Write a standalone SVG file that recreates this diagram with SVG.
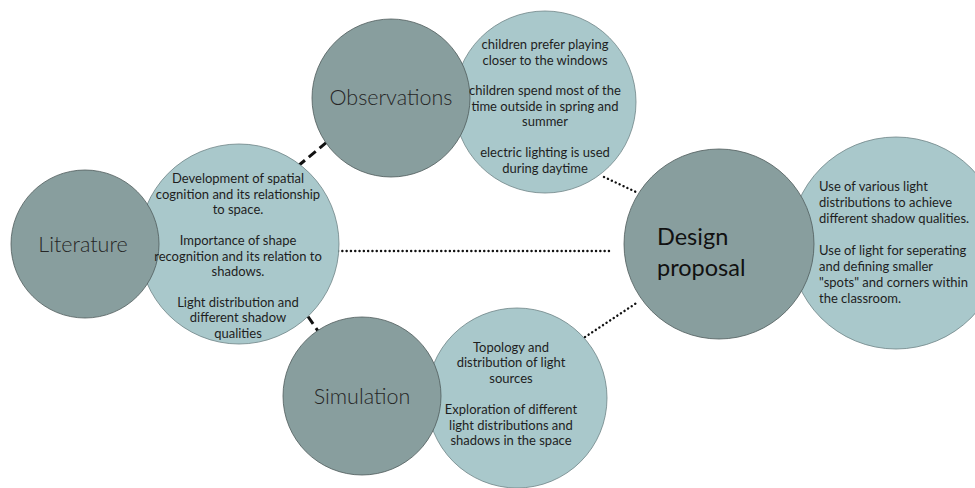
<svg xmlns="http://www.w3.org/2000/svg" width="975" height="488" viewBox="0 0 975 488">
<style>
.light{fill:#a9c8cb;stroke:#6f8486;stroke-width:0.8}
.dark{fill:#889e9e;stroke:#4f5c5c;stroke-width:0.8}
.title{font-family:Lato,"Liberation Sans",sans-serif;font-weight:300;fill:#262626;text-anchor:middle;font-size:21.5px}
.body{font-family:Lato,"Liberation Sans",sans-serif;font-size:13px;fill:#1e1e1e;text-anchor:middle}
.dash{stroke:#111;stroke-width:3;stroke-dasharray:9 5;fill:none}
.dot{stroke:#111;stroke-width:2.4;stroke-dasharray:0.1 4.2;stroke-linecap:round;fill:none}
</style>
<rect width="975" height="488" fill="#ffffff"/>
<g id="connectors">
<line class="dash" x1="298" y1="166" x2="327" y2="142"/>
<line class="dash" x1="300" y1="305" x2="318" y2="331"/>
<line class="dot" x1="604" y1="177" x2="636" y2="192"/>
<line class="dot" x1="338" y1="251" x2="613" y2="251"/>
<line class="dot" x1="585" y1="337" x2="638" y2="302"/>
</g>
<g id="literature">
<circle class="light" cx="239" cy="244" r="100"/>
<circle class="dark" cx="85" cy="244" r="74"/>
<text class="title" x="83" y="252">Literature</text>
<text class="body"><tspan x="238" y="183">Development of spatial</tspan><tspan x="238" y="199">cognition and its relationship</tspan><tspan x="238" y="214">to space.</tspan><tspan x="238" y="245">Importance of shape</tspan><tspan x="238" y="261">recognition and its relation to</tspan><tspan x="238" y="276">shadows.</tspan><tspan x="238" y="307">Light distribution and</tspan><tspan x="238" y="322">different shadow</tspan><tspan x="238" y="338">qualities</tspan></text>
</g>
<g id="observations">
<circle class="light" cx="545" cy="102" r="91"/>
<circle class="dark" cx="391" cy="98" r="79"/>
<text class="title" x="391" y="105">Observations</text>
<text class="body"><tspan x="545" y="49">children prefer playing</tspan><tspan x="545" y="65">closer to the windows</tspan><tspan x="545" y="95">children spend most of the</tspan><tspan x="545" y="111">time outside in spring and</tspan><tspan x="545" y="126">summer</tspan><tspan x="545" y="157">electric lighting is used</tspan><tspan x="545" y="173">during daytime</tspan></text>
</g>
<g id="simulation">
<circle class="light" cx="517" cy="398" r="90"/>
<circle class="dark" cx="362" cy="396" r="79"/>
<text class="title" x="362" y="404">Simulation</text>
<text class="body"><tspan x="511" y="352">Topology and</tspan><tspan x="511" y="367">distribution of light</tspan><tspan x="511" y="383">sources</tspan><tspan x="511" y="414">Exploration of different</tspan><tspan x="511" y="430">light distributions and</tspan><tspan x="511" y="445">shadows in the space</tspan></text>
</g>
<g id="design-proposal">
<circle class="light" cx="896" cy="243" r="106"/>
<circle class="dark" cx="719" cy="244" r="95"/>
<text font-family="Lato,'Liberation Sans',sans-serif" font-size="23.5" fill="#111"><tspan x="657" y="245">Design</tspan><tspan x="657" y="276">proposal</tspan></text>
<text class="body" style="text-anchor:start"><tspan x="819" y="191">Use of various light</tspan><tspan x="819" y="207">distributions to achieve</tspan><tspan x="819" y="223">different shadow qualities.</tspan><tspan x="819" y="255">Use of light for seperating</tspan><tspan x="819" y="271">and defining smaller</tspan><tspan x="819" y="287">"spots" and corners within</tspan><tspan x="819" y="303">the classroom.</tspan></text>
</g>
</svg>
